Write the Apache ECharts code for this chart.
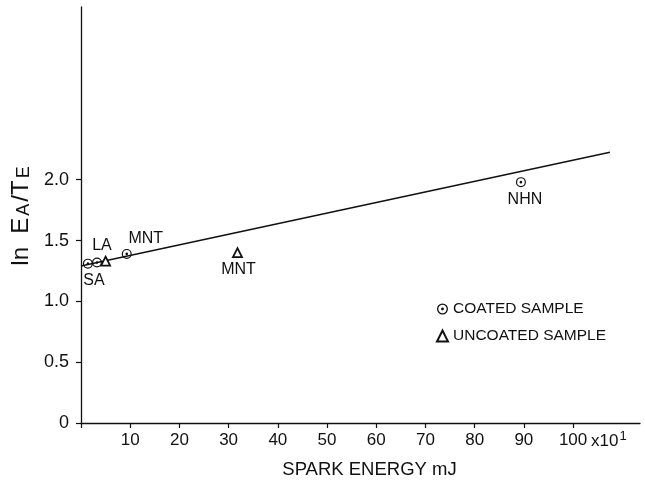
<!DOCTYPE html>
<html>
<head>
<meta charset="utf-8">
<script src="https://cdn.jsdelivr.net/npm/echarts@6/dist/echarts.min.js"></script>
<style>html,body{margin:0;padding:0;background:#fff}#c{width:645px;height:487px}</style>
</head>
<body>
<div id="c"></div>
<script>
// Data
var coatedNames = ['SA', 'LA', 'MNT', 'NHN'];
var coatedX = [1.4, 3.25, 9.3, 89.4];
var coatedY = [1.31, 1.32, 1.39, 1.98];
var uncoatedNames = ['', 'MNT'];
var uncoatedX = [5.0, 31.8];
var uncoatedY = [1.33, 1.40];
var fitX = [0, 107.5];
var fitY = [1.29, 2.225];
var xTickLabels = [10, 20, 30, 40, 50, 60, 70, 80, 90, 100];
var yTickLabels = [0, 0.5, 1.0, 1.5, 2.0];

var FONT = '"Liberation Sans", Arial, sans-serif';
var ringPath = 'path://M0,-10 A10,10 0 1,1 0,10 A10,10 0 1,1 0,-10 Z M0,-7.6 A7.6,7.6 0 1,0 0,7.6 A7.6,7.6 0 1,0 0,-7.6 Z M0,-2.6 A2.6,2.6 0 1,1 0,2.6 A2.6,2.6 0 1,1 0,-2.6 Z';

var labelOffsets = {
  'SA': [6, 17], 'LA': [5, -17], 'MNT': [19, -15], 'NHN': [4, 17]
};
var uncoatedOffsets = {'MNT': [1, 17]};

function mkData(xs, ys, names, offs) {
  return xs.map(function (x, i) {
    var n = names[i];
    var item = {value: [x, ys[i]], name: n};
    if (n && offs[n]) {
      item.label = {show: true, position: 'inside', offset: offs[n], formatter: n,
        color: '#111', fontSize: 16, fontFamily: FONT};
    }
    return item;
  });
}

var chart = echarts.init(document.getElementById('c'), null, {renderer: 'canvas'});
chart.setOption({
  animation: false,
  backgroundColor: '#fff',
  grid: {left: 81, right: 5, top: 7, bottom: 64, containLabel: false, outerBoundsMode: 'none'},
  legend: {
    orient: 'vertical', left: 431, top: 296, itemWidth: 11, itemHeight: 11, itemGap: 11,
    textStyle: {fontSize: 15.5, color: '#111', fontFamily: FONT},
    data: ['COATED SAMPLE', 'UNCOATED SAMPLE']
  },
  xAxis: {
    type: 'value', min: 0, max: 113.6,
    name: 'SPARK ENERGY mJ', nameLocation: 'middle', nameGap: 37,
    nameTextStyle: {fontSize: 18.5, color: '#111', fontFamily: FONT, padding: [0, 0, 0, 18]},
    axisLine: {onZero: false, lineStyle: {color: '#111', width: 1.3}},
    axisTick: {show: true, length: 5, customValues: [0].concat(xTickLabels), lineStyle: {color: '#111', width: 1.2}},
    axisLabel: {customValues: xTickLabels, fontSize: 17, color: '#111', fontFamily: FONT, margin: 9},
    splitLine: {show: false}
  },
  yAxis: {
    type: 'value', min: 0, max: 3.42,
    name: 'ln  E{sub|A}/T{sub|E}', nameLocation: 'middle', nameGap: 40,
    nameTextStyle: {fontSize: 24, color: '#111', fontFamily: FONT,
      rich: {sub: {fontSize: 18, color: '#111', fontFamily: FONT, verticalAlign: 'bottom', padding: [6, 2, 0, 2]}}},
    axisLine: {onZero: false, lineStyle: {color: '#111', width: 1.3}},
    axisTick: {show: true, length: 5, customValues: yTickLabels, lineStyle: {color: '#111', width: 1.2}},
    axisLabel: {customValues: yTickLabels, fontSize: 18, color: '#111', fontFamily: FONT, margin: 12,
      formatter: function (v) { return v === 0 ? '0' : v.toFixed(1); }},
    splitLine: {show: false}
  },
  graphic: [{
    type: 'text', left: 591, top: 430,
    style: {text: 'x10{sup|1}', fontSize: 17, fill: '#111', fontFamily: FONT,
      rich: {sup: {fontSize: 13, fill: '#111', fontFamily: FONT, padding: [0, 0, 9, 1]}}}
  }],
  series: [
    {
      type: 'line', name: 'fit', data: fitX.map(function (x, i) { return [x, fitY[i]]; }),
      showSymbol: false, symbol: 'none', lineStyle: {color: '#111', width: 1.5}, z: 1, silent: true
    },
    {
      type: 'scatter', name: 'COATED SAMPLE', symbol: ringPath, symbolSize: 10,
      itemStyle: {color: '#111', opacity: 1}, z: 3,
      data: mkData(coatedX, coatedY, coatedNames, labelOffsets)
    },
    {
      type: 'scatter', name: 'UNCOATED SAMPLE', symbol: 'triangle', symbolSize: 9,
      itemStyle: {color: '#fff', borderColor: '#111', borderWidth: 1.8, opacity: 1}, z: 3,
      data: mkData(uncoatedX, uncoatedY, uncoatedNames, uncoatedOffsets)
    }
  ]
});
</script>
</body>
</html>
